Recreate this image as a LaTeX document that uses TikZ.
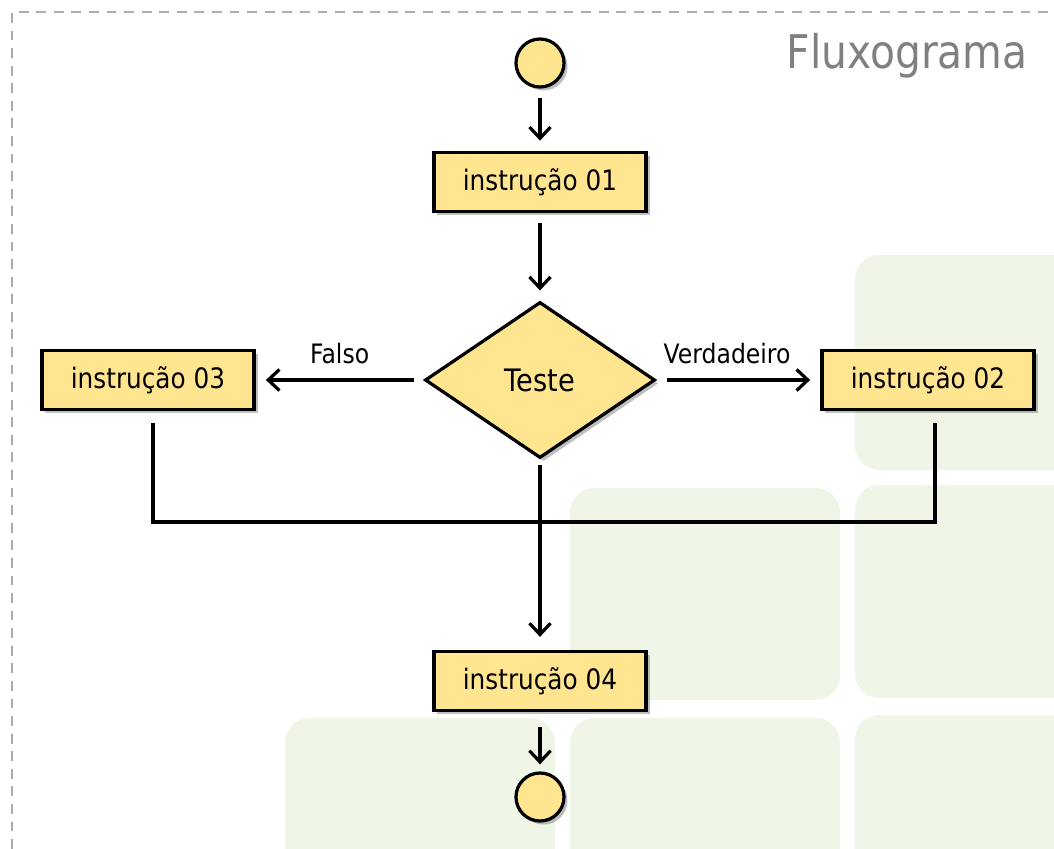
\documentclass[tikz,border=0pt]{standalone}
\usepackage{fontspec}
\setmainfont{DejaVu Sans}[FakeStretch=0.88]
\usetikzlibrary{arrows.meta}
\usetikzlibrary{shapes.geometric, shadows}
\usetikzlibrary{positioning}

\definecolor{boxfill}{RGB}{255,229,143}
\definecolor{tilegreen}{RGB}{239,246,232}
\definecolor{framegray}{RGB}{172,172,172}
\definecolor{titlegray}{RGB}{128,128,128}

\begin{document}
\begin{tikzpicture}[
    x=0.025cm, y=-0.025cm,
    softshadow/.style={drop shadow={shadow xshift=2.5pt, shadow yshift=-2.5pt, opacity=0.25, fill=black}},
    instr/.style={rectangle, draw, line width=2.8pt, fill=boxfill, minimum width=5.3cm, minimum height=1.475cm, inner sep=0pt, font=\fontsize{20}{24}\selectfont, softshadow},
    decision/.style={diamond, draw, line width=2.3pt, fill=boxfill, minimum width=5.75cm, minimum height=3.9cm, inner sep=0pt, font=\fontsize{22}{26}\selectfont, softshadow},
    terminal/.style={circle, draw, line width=2.3pt, fill=boxfill, minimum size=1.2cm, inner sep=0pt, softshadow},
    lbl/.style={font=\fontsize{19}{22}\selectfont, inner sep=0pt},
    flow/.style={line width=2.3pt, -{Straight Barb[length=8pt, width=15pt]}, shorten <=7pt, shorten >=7pt},
    joinline/.style={line width=2.3pt, shorten <=8.5pt, shorten >=8.5pt},
    tile/.style={fill=tilegreen, rounded corners=0.6cm}
]

\useasboundingbox (0,0) rectangle (1054,849);

% --- Background tiles ---
\begin{scope}
    \clip (0,0) rectangle (1054,849);
    \fill[tile] (855,255) rectangle (1080,470);
    \fill[tile] (570,488) rectangle (840,700);
    \fill[tile] (855,485) rectangle (1080,698);
    \fill[tile] (285,718) rectangle (555,880);
    \fill[tile] (570,718) rectangle (840,880);
    \fill[tile] (855,715) rectangle (1080,880);
\end{scope}

% --- Frame and title ---
\draw[framegray, line width=1.5pt, dash pattern=on 7pt off 5.5pt] (12,849) -- (12,12) -- (1054,12);
\node[anchor=base east, text=titlegray, font=\fontsize{33}{38}\selectfont, inner sep=0pt] (title) at (1028,68) {Fluxograma};

% --- Nodes ---
\node[terminal] (start) at (540,63) {};
\node[instr] (ins01) at (540,182) {instrução 01};
\node[decision] (cond) at (540,380) {Teste};
\node[instr] (ins03) at (148,380) {instrução 03};
\node[instr] (ins02) at (928,380) {instrução 02};
\node[instr] (ins04) at (540,681) {instrução 04};
\node[terminal] (stop) at (540,797) {};

\coordinate (j3) at (153,522);
\coordinate (j2) at (935,522);

% --- Connectors ---
\draw[flow] (start) -- (ins01);
\draw[flow] (ins01) -- (cond);
\draw[flow] (cond) -- node[lbl, above=10pt, midway] {Falso} (ins03);
\draw[flow] (cond) -- node[lbl, above=10pt, midway, xshift=-8pt] {Verdadeiro} (ins02);
\draw[joinline] (j3 |- ins03.south) -- (j3) -- (j2) -- (j2 |- ins02.south);
\draw[flow, shorten <=4pt, shorten >=9pt] (cond) -- (ins04);
\draw[flow, shorten <=10pt, shorten >=5pt] (ins04) -- (stop);

\end{tikzpicture}
\end{document}
